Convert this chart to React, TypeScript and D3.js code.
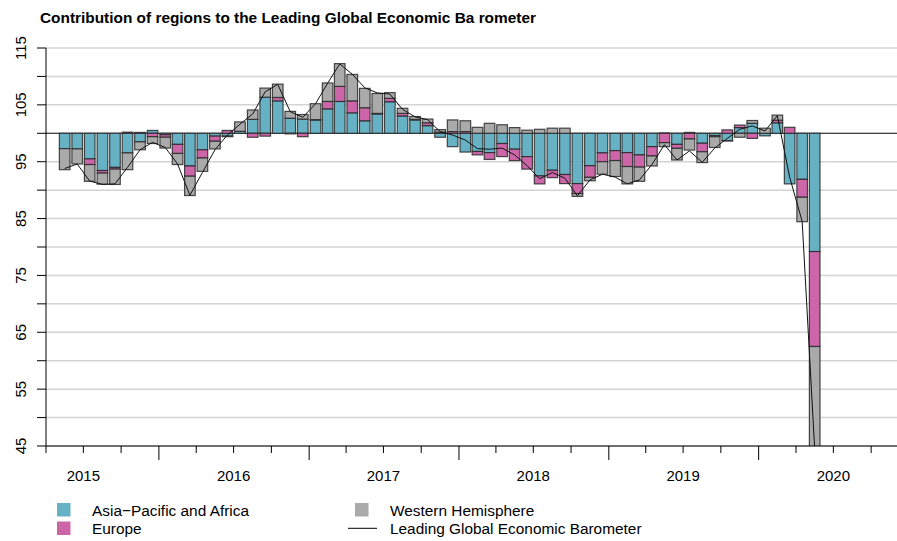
import { useEffect, useRef } from 'react';
import * as d3 from 'd3';

// Monthly contributions (index points relative to 100), May 2015 .. May 2020
const firstMonth = new Date(Date.UTC(2015, 4, 1));

const asiaPacific = [
  -2.7, -2.75, -4.5, -6.55, -6.0, -3.45, -1.5, 0.5, -0.25, -1.95, -5.75, -2.9,
  -0.5, -0.5, 0.35, 2.45, 6.35, 5.7, 2.65, 2.5, 2.35, 4.3, 5.6, 3.6,
  2.2, 3.4, 5.55, 3.05, 2.35, 1.35, -0.7, -2.35, -3.3, -3.2, -3.4, -1.8,
  -2.8, -4.1, -7.5, -6.5, -7.25, -8.85, -5.7, -3.45, -3.05, -3.4, -3.8, -2.35,
  0.05, -1.95, 0.15, -1.75, -0.4, -1.3, 1.0, 1.75, -0.45, 1.85, -8.9, -8.1,
  -20.8,
];
const europe = [
  0, 0, -1.0, -0.45, -0.3, 0.2, 0.15, -0.6, -0.45, -1.6, -1.8, -1.45,
  -0.9, 0.5, 0, -0.7, -0.5, 0.6, -0.1, -0.6, 0.05, 1.3, 2.65, 2.1,
  2.3, 0.1, 0.6, 0.45, 0.1, 0.5, 0.2, 0.3, 0.3, -0.6, -1.2, -2.3,
  -2.0, -2.2, -1.4, -1.3, -1.6, -1.75, -2.05, -1.55, -1.75, -2.45, -2.15, -1.65,
  -1.65, -0.7, -1.0, -1.5, -0.2, 0.6, 0.45, -0.9, 0, 0.45, 1.05, -3.15,
  -16.7,
];
const westernHemisphere = [
  -3.7, -2.65, -2.95, -1.95, -2.7, -2.95, -1.4, -1.2, -1.9, -1.95, -3.4, -2.35,
  -1.35, -0.1, 1.65, 1.65, 1.6, 2.35, 1.2, 0.8, 2.8, 3.25, 4.0, 4.65,
  3.4, 3.5, 1.0, 0.9, 0.5, 0.65, 0.45, 2.05, 1.9, 1.05, 1.75, 1.5,
  1.0, 0.55, 0.7, 0.9, 0.9, -0.5, -0.6, -2.2, -2.8, -3.05, -2.5, -1.75,
  -0.7, -2.05, -1.95, -1.9, -1.9, -0.05, -0.7, 0.5, 0.9, 0.9, 0, -4.3,
  -18.0,
];
const barometer = [
  93.8, 94.6, 91.6, 91.0, 91.1, 94.0, 97.1, 98.4, 97.5, 94.6, 89.1, 93.1,
  97.1, 99.7, 101.6, 103.4, 107.3, 108.6, 103.8, 102.8, 105.2, 108.8, 112.2, 110.4,
  108.0, 107.1, 106.9, 104.2, 102.9, 102.4, 100.3, 99.7, 98.8, 97.3, 97.2, 97.4,
  96.2, 94.3, 92.0, 93.1, 92.1, 89.0, 91.8, 92.8, 92.3, 91.1, 91.8, 94.5,
  98.0, 95.3, 96.9, 94.9, 97.4, 99.1, 100.7, 101.3, 100.4, 103.1, 92.3, 84.5,
  44.5,
];

const gridValues = [45, 50, 55, 60, 65, 70, 75, 80, 85, 90, 95, 100, 105, 110, 115];
const yLabels = [45, 55, 65, 75, 85, 95, 105, 115];
const yearLabels = [2015, 2016, 2017, 2018, 2019, 2020];

const seriesKeys = ['asia', 'europe', 'west'];
const seriesNames = ['Asia\u2212Pacific and Africa', 'Europe', 'Western Hemisphere'];
const seriesColors = ['#66b1c3', '#cc66a9', '#aaaaaa'];
const lineName = 'Leading Global Economic Barometer';
const title = 'Contribution of regions to the Leading Global Economic Ba rometer';

const FONT = '"Liberation Sans", Arial, Helvetica, sans-serif';

export default function App() {
  const ref = useRef<SVGSVGElement>(null);

  useEffect(() => {
    if (!ref.current) return;
    const svg = d3.select(ref.current);
    svg.selectAll('*').remove();

    const plot = { left: 46, right: 897, top: 48, bottom: 446 };

    const x = d3.scaleUtc()
      .domain([new Date(Date.UTC(2015, 3, 1)), new Date(Date.UTC(2020, 11, 3))])
      .range([plot.left, plot.right]);
    const y = d3.scaleLinear().domain([45, 115]).range([plot.bottom, plot.top]);

    const months = asiaPacific.map((_, i) => d3.utcMonth.offset(firstMonth, i));
    const mid = (d: Date) => (x(d) + x(d3.utcMonth.offset(d, 1))) / 2;
    const barW = 10.6;

    const rows = months.map((date, i) => ({
      date,
      asia: asiaPacific[i],
      europe: europe[i],
      west: westernHemisphere[i],
    }));
    const stacked = d3.stack<any>()
      .keys(seriesKeys)
      .offset(d3.stackOffsetDiverging)(rows);

    svg.append('defs').append('clipPath').attr('id', 'plot-clip')
      .append('rect')
      .attr('x', plot.left).attr('y', plot.top)
      .attr('width', plot.right - plot.left).attr('height', plot.bottom - plot.top);

    // grid
    svg.append('g').selectAll('line').data(gridValues).enter().append('line')
      .attr('x1', plot.left).attr('x2', plot.right)
      .attr('y1', d => y(d)).attr('y2', d => y(d))
      .attr('stroke', '#d3d3d3').attr('stroke-width', 1.5);

    // reference line at 100
    svg.append('line')
      .attr('x1', plot.left).attr('x2', plot.right)
      .attr('y1', y(100)).attr('y2', y(100))
      .attr('stroke', '#444').attr('stroke-width', 1.3);

    const body = svg.append('g').attr('clip-path', 'url(#plot-clip)');

    // stacked bars
    stacked.forEach((layer, k) => {
      body.append('g').selectAll('rect').data(layer).enter().append('rect')
        .attr('x', d => mid(d.data.date) - barW / 2)
        .attr('width', barW)
        .attr('y', d => y(100 + Math.max(d[0], d[1])))
        .attr('height', d => Math.abs(y(100 + d[0]) - y(100 + d[1])))
        .attr('fill', seriesColors[k])
        .attr('stroke', '#2a2a2a')
        .attr('stroke-opacity', 0.85)
        .attr('stroke-width', 1.2);
    });

    // barometer line
    const line = d3.line<number>()
      .x((_, i) => mid(months[i]))
      .y(d => y(d));
    body.append('path')
      .attr('d', line(barometer))
      .attr('fill', 'none')
      .attr('stroke', '#111')
      .attr('stroke-width', 1);

    // y axis
    const yAxis = svg.append('g').attr('font-family', FONT);
    yAxis.append('line')
      .attr('x1', plot.left).attr('x2', plot.left)
      .attr('y1', y(115)).attr('y2', y(45))
      .attr('stroke', '#000');
    yAxis.selectAll('.tick').data(gridValues).enter().append('line')
      .attr('x1', plot.left - 9).attr('x2', plot.left)
      .attr('y1', d => y(d)).attr('y2', d => y(d))
      .attr('stroke', '#000');
    yAxis.selectAll('text').data(yLabels).enter().append('text')
      .attr('transform', d => `translate(26,${y(d)}) rotate(-90)`)
      .attr('text-anchor', 'middle')
      .attr('font-size', 15)
      .text(d => d);

    // x axis
    const xAxis = svg.append('g').attr('font-family', FONT);
    xAxis.append('line')
      .attr('x1', plot.left).attr('x2', plot.right)
      .attr('y1', plot.bottom).attr('y2', plot.bottom)
      .attr('stroke', '#000');
    const quarters = d3.utcMonth.every(3)!.range(new Date(Date.UTC(2015, 3, 1)), new Date(Date.UTC(2020, 11, 1)));
    xAxis.selectAll('.tick').data(quarters).enter().append('line')
      .attr('x1', d => x(d)).attr('x2', d => x(d))
      .attr('y1', plot.bottom)
      .attr('y2', d => plot.bottom + (d.getUTCMonth() === 0 ? 14 : 7))
      .attr('stroke', '#000');
    xAxis.selectAll('text').data(yearLabels).enter().append('text')
      .attr('x', d => x(new Date(Date.UTC(d, 6, 1))))
      .attr('y', 480.5)
      .attr('text-anchor', 'middle')
      .attr('font-size', 15)
      .text(d => d);

    // title
    svg.append('text')
      .attr('x', 40).attr('y', 22.5)
      .attr('font-family', FONT)
      .attr('font-size', 15.4)
      .attr('font-weight', 'bold')
      .text(title);

    // legend
    const legend = svg.append('g').attr('font-family', FONT).attr('font-size', 15.4);
    const legendItems = [
      { name: seriesNames[0], color: seriesColors[0], x: 57, y: 503 },
      { name: seriesNames[1], color: seriesColors[1], x: 57, y: 521.5 },
      { name: seriesNames[2], color: seriesColors[2], x: 355, y: 503 },
    ];
    legendItems.forEach(item => {
      legend.append('rect')
        .attr('x', item.x).attr('y', item.y)
        .attr('width', 13.5).attr('height', 13.5)
        .attr('fill', item.color);
      legend.append('text')
        .attr('x', item.x + 35).attr('y', item.y + 12.5)
        .text(item.name);
    });
    legend.append('line')
      .attr('x1', 348).attr('x2', 377)
      .attr('y1', 528.3).attr('y2', 528.3)
      .attr('stroke', '#000');
    legend.append('text')
      .attr('x', 390).attr('y', 534)
      .text(lineName);
  }, []);

  return (
    <svg
      ref={ref}
      width={897}
      height={541}
      style={{ position: 'absolute', left: 0, top: 0, background: '#fff' }}
    />
  );
}
